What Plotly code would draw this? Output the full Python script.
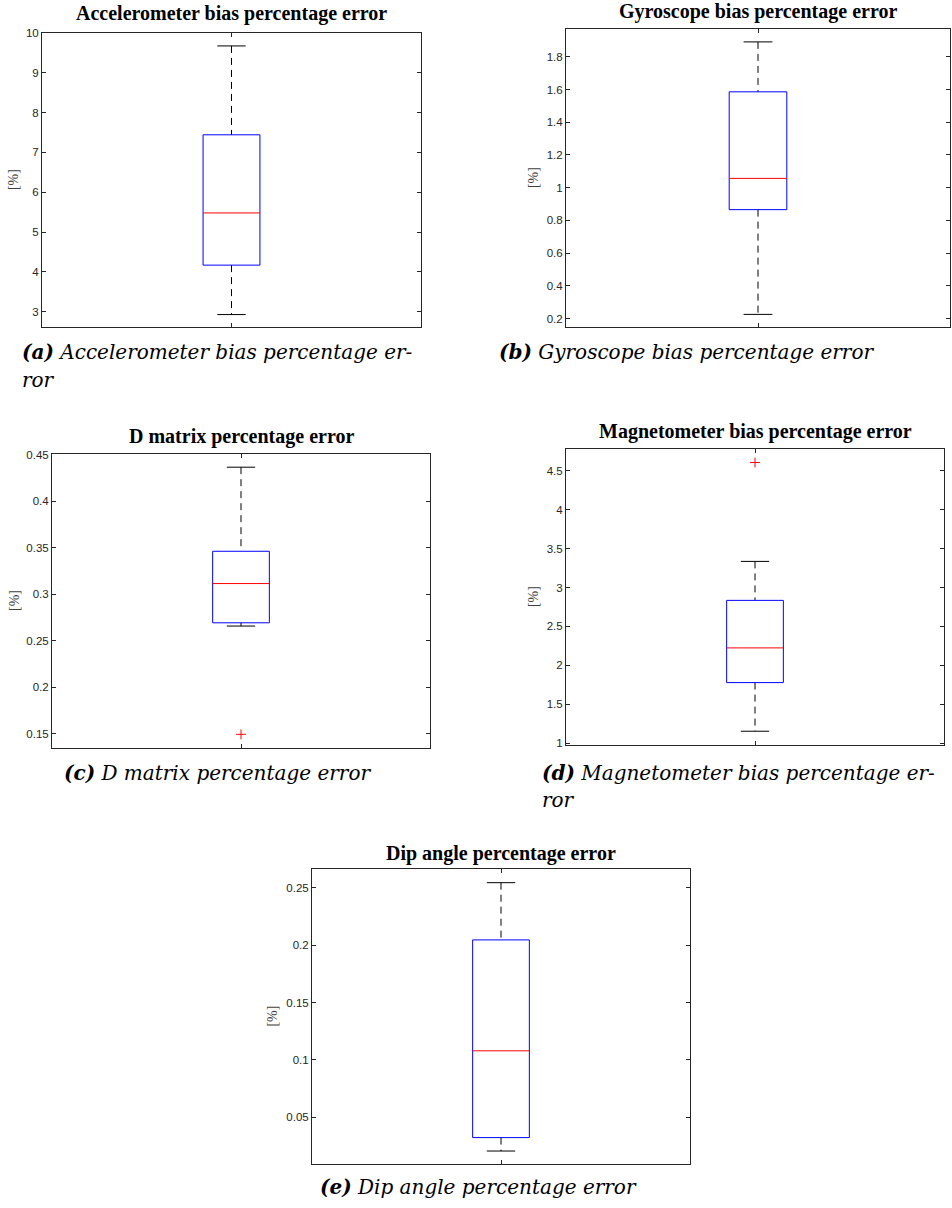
import plotly.graph_objects as go

# Box-plot statistics for each error metric (values in %)
panel_titles = [
    "Accelerometer bias percentage error",
    "Gyroscope bias percentage error",
    "D matrix percentage error",
    "Magnetometer bias percentage error",
    "Dip angle percentage error",
]
caption_tags = ["(a)", "(b)", "(c)", "(d)", "(e)"]
caption_lines = [
    ["Accelerometer bias percentage er-", "ror"],
    ["Gyroscope bias percentage error"],
    ["D matrix percentage error"],
    ["Magnetometer bias percentage er-", "ror"],
    ["Dip angle percentage error"],
]
lower_whisker = [2.93, 0.226, 0.266, 1.153, 0.0206]
q1 = [4.17, 0.866, 0.2695, 1.778, 0.0323]
median = [5.48, 1.057, 0.3117, 2.224, 0.108]
q3 = [7.44, 1.586, 0.3464, 2.835, 0.2047]
upper_whisker = [9.67, 1.891, 0.4368, 3.336, 0.2546]
outliers = [[], [], [0.1496], [4.607], []]

y_tickvals = [
    [3, 4, 5, 6, 7, 8, 9, 10],
    [0.2, 0.4, 0.6, 0.8, 1.0, 1.2, 1.4, 1.6, 1.8],
    [0.15, 0.2, 0.25, 0.3, 0.35, 0.4, 0.45],
    [1, 1.5, 2, 2.5, 3, 3.5, 4, 4.5],
    [0.05, 0.1, 0.15, 0.2, 0.25],
]
y_ticktext = [
    ["3", "4", "5", "6", "7", "8", "9", "10"],
    ["0.2", "0.4", "0.6", "0.8", "1", "1.2", "1.4", "1.6", "1.8"],
    ["0.15", "0.2", "0.25", "0.3", "0.35", "0.4", "0.45"],
    ["1", "1.5", "2", "2.5", "3", "3.5", "4", "4.5"],
    ["0.05", "0.1", "0.15", "0.2", "0.25"],
]
y_label = "[%]"

# Layout: figure size and per-panel placement (pixels)
W, H = 952, 1208
axes_px = [  # left, right, top, bottom
    (42, 421, 27, 324),
    (566, 950, 23, 324),
    (52, 430, 452, 748),
    (566, 944, 447, 745),
    (312, 690, 870, 1168),
]
y_ranges = [
    (2.61, 10.0),
    (0.147, 1.971),
    (0.1351, 0.4507),
    (0.978, 4.777),
    (0.009, 0.2667),
]
title_y_px = [8, 6, 434, 429, 855]
ylabel_x_px = [13, 533, 14, 533, 273]
caption_x_px = [20, 497, 62, 540, 318]
caption_y_px = [349, 349, 773, 773, 1191]
caption_gap = 28

AXIS_COLOR = "#262626"
BOX_HALF = 0.075
CAP_HALF = 0.0375
POS = 1.0

fig = go.Figure()
annotations = []


def px_x(v):
    return v / W


def px_y(v):
    return 1 - v / H


for i in range(5):
    n = "" if i == 0 else str(i + 1)
    xa, ya = "x" + n, "y" + n
    left, right, top, bottom = axes_px[i]

    # dashed whiskers
    fig.add_trace(go.Scatter(
        x=[POS, POS, None, POS, POS],
        y=[upper_whisker[i], q3[i], None, q1[i], lower_whisker[i]],
        mode="lines", line=dict(color="#000000", width=1, dash="7px,5px"),
        xaxis=xa, yaxis=ya, showlegend=False, hoverinfo="skip",
    ))
    # whisker caps
    fig.add_trace(go.Scatter(
        x=[POS - CAP_HALF, POS + CAP_HALF, None, POS - CAP_HALF, POS + CAP_HALF],
        y=[upper_whisker[i], upper_whisker[i], None, lower_whisker[i], lower_whisker[i]],
        mode="lines", line=dict(color="#000000", width=1),
        xaxis=xa, yaxis=ya, showlegend=False, hoverinfo="skip",
    ))
    # interquartile box
    fig.add_trace(go.Scatter(
        x=[POS - BOX_HALF, POS + BOX_HALF, POS + BOX_HALF, POS - BOX_HALF, POS - BOX_HALF],
        y=[q1[i], q1[i], q3[i], q3[i], q1[i]],
        mode="lines", line=dict(color="#0000ff", width=1),
        xaxis=xa, yaxis=ya, showlegend=False, hoverinfo="skip",
    ))
    # median
    fig.add_trace(go.Scatter(
        x=[POS - BOX_HALF, POS + BOX_HALF],
        y=[median[i], median[i]],
        mode="lines", line=dict(color="#ff0000", width=1),
        xaxis=xa, yaxis=ya, showlegend=False, hoverinfo="skip",
    ))
    # outliers
    if outliers[i]:
        fig.add_trace(go.Scatter(
            x=[POS] * len(outliers[i]), y=outliers[i], mode="markers",
            marker=dict(symbol="cross-thin", size=7, line=dict(color="#ff0000", width=1)),
            xaxis=xa, yaxis=ya, showlegend=False, hoverinfo="skip",
        ))

    common = dict(
        showline=True, linecolor=AXIS_COLOR, linewidth=1, mirror="ticks",
        ticks="inside", ticklen=4, tickcolor=AXIS_COLOR, tickwidth=1,
        showgrid=False, zeroline=False, fixedrange=True,
    )
    fig.update_layout(**{
        ("xaxis" + n): dict(
            domain=[px_x(left), px_x(right)], range=[0.5, 1.5],
            tickvals=[POS], ticktext=[""], anchor=ya, **common,
        ),
        ("yaxis" + n): dict(
            domain=[px_y(bottom), px_y(top)], range=list(y_ranges[i]),
            tickvals=y_tickvals[i], ticktext=y_ticktext[i], anchor=xa,
            tickfont=dict(family="Liberation Sans, Arial", size=11.5, color=AXIS_COLOR),
            **common,
        ),
    })

    # panel title
    annotations.append(dict(
        text="<b>" + panel_titles[i] + "</b>", xref="paper", yref="paper",
        x=px_x((left + right) / 2), y=px_y(title_y_px[i]),
        xanchor="center", yanchor="middle", showarrow=False,
        font=dict(family="Liberation Serif, Times New Roman", size=20, color="#000000"),
    ))
    # y-axis label
    annotations.append(dict(
        text=y_label, xref="paper", yref="paper",
        x=px_x(ylabel_x_px[i]), y=px_y((top + bottom) / 2),
        xanchor="center", yanchor="middle", showarrow=False, textangle=-90,
        font=dict(family="Liberation Serif, Times New Roman", size=14, color="#404040"),
    ))
    # caption below the panel
    for k, line in enumerate(caption_lines[i]):
        txt = ("<b><i>" + caption_tags[i] + "</i></b><i> " + line + "</i>") if k == 0 else ("<i>" + line + "</i>")
        annotations.append(dict(
            text=txt, xref="paper", yref="paper",
            x=px_x(caption_x_px[i]), y=px_y(caption_y_px[i] + k * caption_gap),
            xanchor="left", yanchor="middle", showarrow=False, align="left",
            font=dict(family="DejaVu Serif", size=20, color="#000000"),
        ))

fig.update_layout(
    width=W, height=H, margin=dict(l=0, r=0, t=0, b=0),
    paper_bgcolor="#ffffff", plot_bgcolor="#ffffff",
    annotations=annotations, showlegend=False,
)

fig.write_html("out.html")
